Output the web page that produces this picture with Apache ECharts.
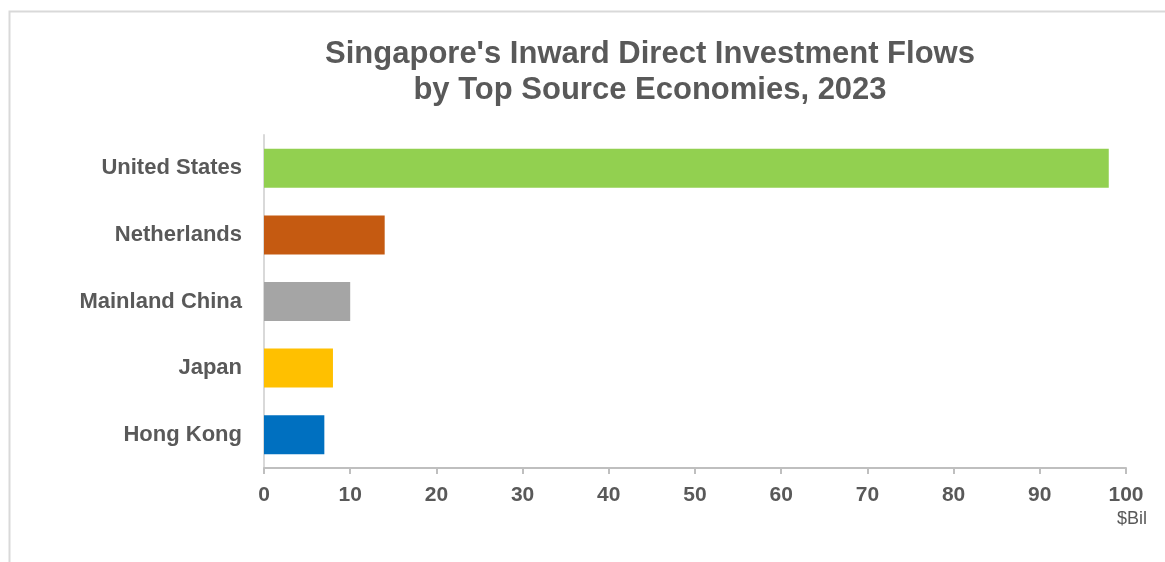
<!DOCTYPE html>
<html><head><meta charset="utf-8">
<script src="https://cdn.jsdelivr.net/npm/echarts@6/dist/echarts.min.js"></script>
<style>html,body{margin:0;padding:0;background:#fff}#c{width:1165px;height:562px}</style>
</head><body><div id="c"></div>
<script>
const categories = ['United States', 'Netherlands', 'Mainland China', 'Japan', 'Hong Kong'];
const values = [98, 14, 10, 8, 7];
const colors = ['#92d050', '#c55a11', '#a5a5a5', '#ffc000', '#0070c0'];
const xTicks = [0, 10, 20, 30, 40, 50, 60, 70, 80, 90, 100];
const titleText = "Singapore's Inward Direct Investment Flows\nby Top Source Economies, 2023";
const unitText = '$Bil';

const chart = echarts.init(document.getElementById('c'), null, {renderer: 'canvas'});
const font = 'Liberation Sans, Arial, sans-serif';
chart.setOption({
  animation: false,
  backgroundColor: '#fff',
  title: {
    text: titleText, left: 645, top: 31, textAlign: 'center',
    textStyle: {fontFamily: font, fontSize: 31, fontWeight: 'bold', color: '#595959', lineHeight: 36}
  },
  graphic: [
    {type: 'polyline', shape: {points: [[9.5, 600], [9.5, 11.5], [1200, 11.5]]},
     style: {stroke: '#d9d9d9', lineWidth: 2, fill: null}, silent: true},
    {type: 'text', right: 1165 - 1147, top: 510,
     style: {text: unitText, font: '18px ' + font, fill: '#595959'}}
  ],
  grid: {left: 264, right: 39, top: 135, bottom: 94, containLabel: false},
  xAxis: {
    type: 'value', min: xTicks[0], max: xTicks[xTicks.length - 1], interval: 10,
    axisLine: {show: true, lineStyle: {color: '#bfbfbf', width: 2}},
    axisTick: {show: true, length: 6, lineStyle: {color: '#bfbfbf', width: 2}},
    splitLine: {show: false},
    axisLabel: {margin: 17, fontFamily: font, fontSize: 21, fontWeight: 'bold', color: '#595959'}
  },
  yAxis: {
    type: 'category', data: categories, inverse: true,
    axisLine: {show: true, lineStyle: {color: '#d9d9d9', width: 2}},
    axisTick: {show: false},
    axisLabel: {margin: 22, fontFamily: font, fontSize: 22, fontWeight: 'bold', color: '#595959'}
  },
  series: [{
    type: 'bar', barWidth: 39,
    data: values.map((v, i) => ({value: v, itemStyle: {color: colors[i]}}))
  }]
});
</script></body></html>
